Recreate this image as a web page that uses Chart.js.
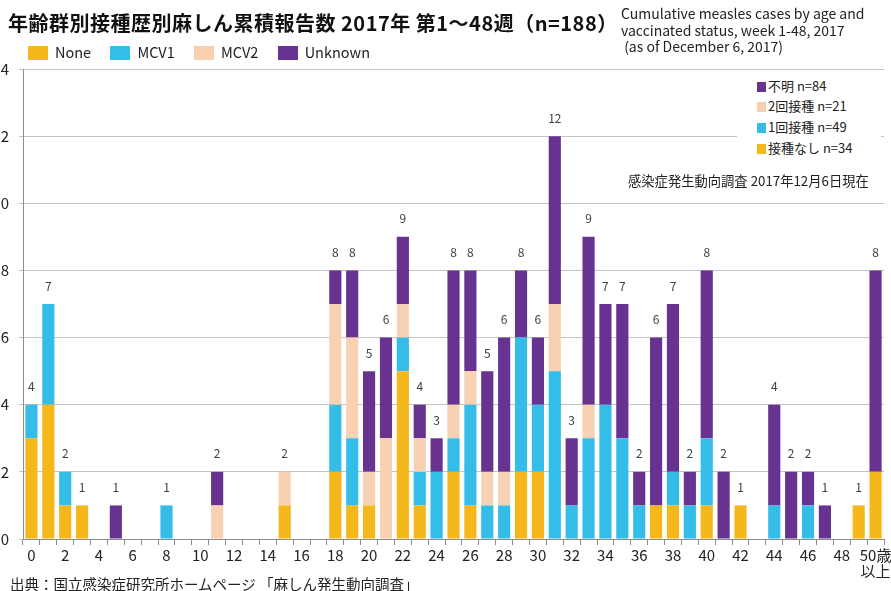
<!DOCTYPE html>
<html>
<head>
<meta charset="utf-8">
<script src="https://cdn.jsdelivr.net/npm/chart.js@4/dist/chart.umd.min.js"></script>
<style>
  html, body { margin: 0; padding: 0; background: #fff; overflow: hidden; width: 891px; height: 591px; }
  body { position: relative; font-family: "Noto Sans CJK JP", "Noto Sans", sans-serif; color: #222; }
  #wrap { position: absolute; left: -12px; top: 0; width: 950px; height: 591px; }
  .abs { position: absolute; white-space: nowrap; }
  #title { left: 8px; top: 8px; font-size: 20px; font-weight: bold; color: #111; letter-spacing: 0.5px; }
  #legend { left: 28px; top: 41px; font-size: 14.5px; }
  #legend span.item { margin-right: 16px; }
  #legend i { display: inline-block; width: 20px; height: 14px; vertical-align: -2px; margin-right: 7px; }
  #eng { left: 621px; top: 5px; font-size: 14px; line-height: 16.5px; color: #222; }
  #inlegend { left: 737px; top: 76px; width: 144px; height: 84px; background: #fff; font-size: 13px; }
  #inlegend div { position: absolute; left: 20px; }
  #inlegend i { display: inline-block; width: 9px; height: 10px; margin-right: 2px; vertical-align: -1px; }
  #asof { left: 628px; top: 171px; font-size: 13.3px; }
  #source { left: 10px; top: 573px; font-size: 14.5px; }
</style>
</head>
<body>
<div id="wrap"><canvas id="chart"></canvas></div>

<div class="abs" id="title">年齢群別接種歴別麻しん累積報告数 2017年 第1～48週（n=188）</div>
<div class="abs" id="legend">
  <span class="item"><i style="background:#f4b71c"></i>None</span>
  <span class="item"><i style="background:#35bdea"></i>MCV1</span>
  <span class="item"><i style="background:#f8d1b3"></i>MCV2</span>
  <span class="item"><i style="background:#673290"></i>Unknown</span>
</div>
<div class="abs" id="eng">Cumulative measles cases by age and<br>vaccinated status, week 1-48, 2017<br>&nbsp;(as of December 6, 2017)</div>
<div class="abs" id="inlegend">
  <div style="top:0px"><i style="background:#673290"></i>不明 n=84</div>
  <div style="top:20px"><i style="background:#f8d1b3"></i>2回接種 n=21</div>
  <div style="top:41px"><i style="background:#35bdea"></i>1回接種 n=49</div>
  <div style="top:62px"><i style="background:#f4b71c"></i>接種なし n=34</div>
</div>
<div class="abs" id="asof">感染症発生動向調査 2017年12月6日現在</div>
<div class="abs" id="source">出典：国立感染症研究所ホームページ 「麻しん発生動向調査」</div>

<script>
// 年齢 0〜49歳, 50歳以上
const ages = [];
for (let a = 0; a < 50; a++) ages.push(String(a));
ages.push(["50歳", "以上"]);

const noneCases    = [3,4,1,1,0,0,0,0,0,0, 0,0,0,0,0,1,0,0,2,1, 1,0,5,1,0,2,1,0,0,2, 2,0,0,0,0,0,0,1,1,0, 1,0,1,0,0,0,0,0,0,1, 2];
const mcv1Cases    = [1,3,1,0,0,0,0,0,1,0, 0,0,0,0,0,0,0,0,2,2, 0,0,1,1,2,1,3,1,1,4, 2,5,1,3,4,3,1,0,1,1, 2,0,0,0,1,0,1,0,0,0, 0];
const mcv2Cases    = [0,0,0,0,0,0,0,0,0,0, 0,1,0,0,0,1,0,0,3,3, 1,3,1,1,0,1,1,1,1,0, 0,2,0,1,0,0,0,0,0,0, 0,0,0,0,0,0,0,0,0,0, 0];
const unknownCases = [0,0,0,0,0,1,0,0,0,0, 0,1,0,0,0,0,0,0,1,2, 3,3,2,1,1,4,3,3,4,2, 2,5,2,5,3,4,1,5,5,1, 5,2,0,0,3,2,1,1,0,0, 6];

const yTicks = { min: 0, max: 14, step: 2 };

const colors = {
    none: "#f4b71c",
    mcv1: "#35bdea",
    mcv2: "#f8d1b3",
    unknown: "#673290"
};

// 棒の上に合計を描く
const totalLabels = {
    id: "totalLabels",
    afterDatasetsDraw(chart){
        const ctx = chart.ctx;
        const yScale = chart.scales.y;
        const meta = chart.getDatasetMeta(0);
        ctx.save();
        ctx.font = "12px 'Noto Sans CJK JP', sans-serif";
        ctx.fillStyle = "#404040";
        ctx.textAlign = "center";
        ctx.textBaseline = "middle";
        ages.forEach((a, i) => {
            const total = noneCases[i] + mcv1Cases[i] + mcv2Cases[i] + unknownCases[i];
            if(total === 0) return;
            const x = meta.data[i].x;
            const y = yScale.getPixelForValue(total) - 18;
            ctx.fillText(String(total), x, y);
        });
        ctx.restore();
    }
};

const ctx = document.getElementById("chart");

const chart = new Chart(ctx, {
    type: "bar",
    data: {
        labels: ages,
        datasets: [
            { label: "None", data: noneCases, backgroundColor: colors.none },
            { label: "MCV1", data: mcv1Cases, backgroundColor: colors.mcv1 },
            { label: "MCV2", data: mcv2Cases, backgroundColor: colors.mcv2 },
            { label: "Unknown", data: unknownCases, backgroundColor: colors.unknown }
        ]
    },
    options: {
        responsive: true,
        maintainAspectRatio: false,
        animation: false,
        datasets: {
            bar: { categoryPercentage: 1, barPercentage: 0.72, borderWidth: 0 }
        },
        layout: { padding: { top: 69, right: 54, bottom: 0, left: 0 } },
        scales: {
            x: {
                stacked: true,
                afterFit: (scale) => { scale.height = 52; },
                grid: {
                    offset: true,
                    drawOnChartArea: false,
                    tickLength: 6,
                    color: "#8c8c8c"
                },
                border: { color: "#8c8c8c" },
                ticks: {
                    autoSkip: false,
                    maxRotation: 0,
                    padding: 2,
                    color: "#222",
                    font: { family: "'Noto Sans CJK JP', sans-serif", size: 15, lineHeight: 1.1 },
                    callback: function(val, i){
                        return i % 2 === 0 ? this.getLabelForValue(val) : "";
                    }
                }
            },
            y: {
                stacked: true,
                min: yTicks.min,
                max: yTicks.max,
                afterFit: (scale) => { scale.width = 35; },
                grid: { color: "#c4c4c4", tickLength: 4 },
                border: { color: "#8c8c8c" },
                ticks: {
                    stepSize: yTicks.step,
                    padding: 10,
                    color: "#222",
                    font: { family: "'Noto Sans CJK JP', sans-serif", size: 15 }
                }
            }
        },
        plugins: {
            legend: { display: false },
            tooltip: { enabled: false }
        }
    },
    plugins: [totalLabels]
});
</script>
</body>
</html>
